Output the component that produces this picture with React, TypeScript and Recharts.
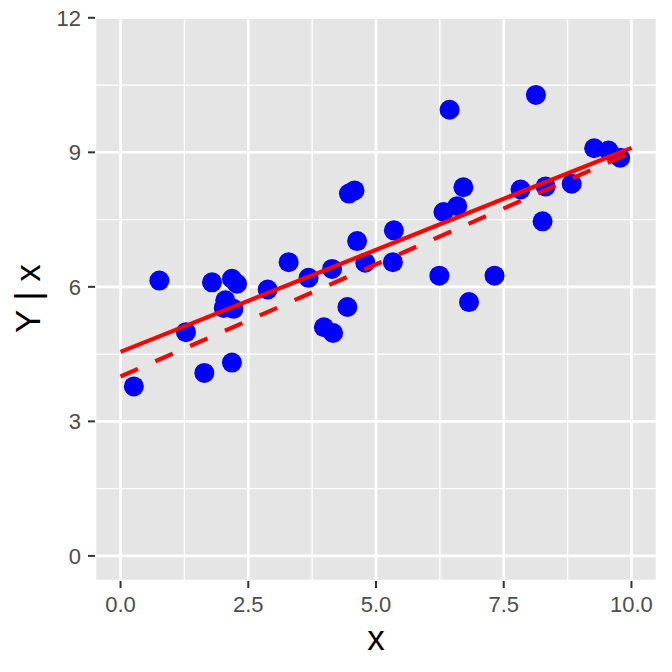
import React from 'react';
import { ComposedChart, Scatter, XAxis, YAxis, CartesianGrid, ReferenceLine } from 'recharts';

// observed points
const xObs = [0.26, 0.76, 1.28, 1.64, 1.79, 2.02, 2.05, 2.18, 2.18, 2.21, 2.28, 2.88, 3.29, 3.68, 3.98, 4.14, 4.16, 4.44, 4.47, 4.58, 4.63, 4.79, 5.33, 5.35, 6.24, 6.32, 6.44, 6.59, 6.71, 6.82, 7.32, 7.83, 8.13, 8.26, 8.32, 8.83, 9.27, 9.55, 9.78];
const yObs = [3.78, 6.14, 4.99, 4.08, 6.10, 5.53, 5.70, 6.18, 4.31, 5.51, 6.07, 5.94, 6.55, 6.20, 5.10, 6.40, 4.97, 5.55, 8.08, 8.15, 7.02, 6.54, 6.55, 7.26, 6.25, 7.67, 9.95, 7.80, 8.22, 5.66, 6.25, 8.17, 10.28, 7.46, 8.24, 8.30, 9.09, 9.04, 8.88];

// fitted (solid) and true (dashed) lines
const lineX = [0, 10];
const fittedY = [4.55, 9.1];
const trueY = [4.0, 9.0];

const xTicks = [0, 2.5, 5, 7.5, 10];
const yTicks = [0, 3, 6, 9, 12];
const xMinor = [1.25, 3.75, 6.25, 8.75];
const yMinor = [1.5, 4.5, 7.5, 10.5];
const xDomain = [-0.5, 10.5];
const yDomain = [-0.56, 12.04];
const xTitle = 'x';
const yTitle = 'Y | x';

const points = xObs.map((x, i) => ({ x, y: yObs[i] }));
const fitted = lineX.map((x, i) => ({ x, y: fittedY[i] }));
const truth = lineX.map((x, i) => ({ x, y: trueY[i] }));

const FONT = '"Liberation Sans", Arial, Helvetica, sans-serif';

const Dot = (p: any) => <circle cx={p.cx} cy={p.cy} r={10} fill="#0000FF" />;
const NoShape = () => <g />;

const XTitle = (p: any) => {
  const vb = p.viewBox || { x: 95, y: 581, width: 562, height: 91 };
  return (
    <text x={vb.x + vb.width / 2} y={vb.y + 69} textAnchor="middle" fontSize={35} fill="#000" fontFamily={FONT}>
      {xTitle}
    </text>
  );
};

const YTitle = (p: any) => {
  const vb = p.viewBox || { x: 0, y: 16, width: 95, height: 565 };
  const cx = vb.x + 39.5;
  const cy = vb.y + vb.height / 2;
  return (
    <text x={cx} y={cy} textAnchor="middle" fontSize={35} fill="#000" fontFamily={FONT} transform={`rotate(-90, ${cx}, ${cy})`}>
      {yTitle}
    </text>
  );
};

export default function App() {
  return (
    <div style={{ position: 'absolute', left: 0, top: 0, width: 672, height: 672, background: '#fff', fontFamily: FONT }}>
      <ComposedChart width={672} height={672} margin={{ top: 16, right: 15, bottom: 0, left: 0 }}>
        <CartesianGrid fill="#E5E5E5" stroke="#FFFFFF" strokeWidth={2.6} />
        {xMinor.map((v) => (
          <ReferenceLine key={'xm' + v} x={v} stroke="#FFFFFF" strokeWidth={1.3} />
        ))}
        {yMinor.map((v) => (
          <ReferenceLine key={'ym' + v} y={v} stroke="#FFFFFF" strokeWidth={1.3} />
        ))}
        <XAxis
          dataKey="x"
          type="number"
          domain={xDomain}
          ticks={xTicks}
          allowDataOverflow
          height={91}
          axisLine={false}
          tickSize={7}
          tickMargin={8}
          tickLine={{ stroke: '#333333', strokeWidth: 2 }}
          tick={{ fill: '#4D4D4D', fontSize: 22, fontFamily: FONT }}
          tickFormatter={(v: number) => v.toFixed(1)}
          label={{ content: XTitle }}
        />
        <YAxis
          dataKey="y"
          type="number"
          domain={yDomain}
          ticks={yTicks}
          allowDataOverflow
          width={95}
          axisLine={false}
          tickSize={7}
          tickMargin={7}
          tickLine={{ stroke: '#333333', strokeWidth: 2 }}
          tick={{ fill: '#4D4D4D', fontSize: 22, fontFamily: FONT }}
          label={{ content: YTitle }}
        />
        <Scatter data={points} shape={Dot} isAnimationActive={false} />
        <Scatter
          data={fitted}
          shape={NoShape}
          line={{ stroke: '#FF0000', strokeWidth: 4.2 }}
          isAnimationActive={false}
        />
        <Scatter
          data={truth}
          shape={NoShape}
          line={{ stroke: '#FF0000', strokeWidth: 4.2, strokeDasharray: '19 19' }}
          isAnimationActive={false}
        />
      </ComposedChart>
    </div>
  );
}
